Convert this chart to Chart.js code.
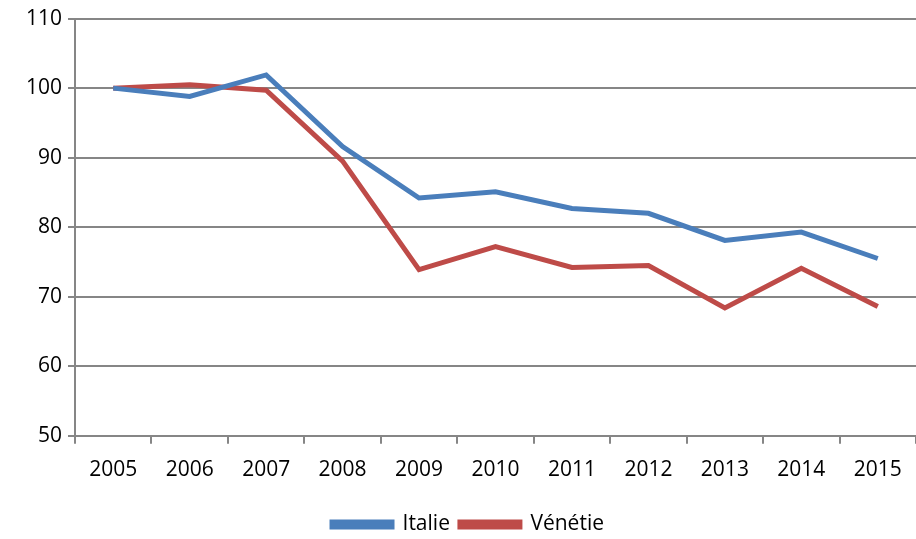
<!DOCTYPE html>
<html lang="fr">
<head>
  <meta charset="UTF-8" />
  <title>Italie / Vénétie</title>
  <script src="https://cdn.jsdelivr.net/npm/chart.js"></script>
  <style>
    html, body { margin: 0; padding: 0; background: #fff; }
    #wrap { width: 916px; height: 539px; }
  </style>
</head>
<body>
  <div id="wrap"><canvas id="chart"></canvas></div>
  <script>
    const years = ['2005', '2006', '2007', '2008', '2009', '2010', '2011', '2012', '2013', '2014', '2015'];
    const italie = [100, 98.8, 101.9, 91.6, 84.2, 85.1, 82.7, 82.0, 78.1, 79.3, 75.5];
    const venetie = [100, 100.5, 99.7, 89.5, 73.9, 77.2, 74.2, 74.5, 68.4, 74.1, 68.6];

    const gridGray = '#868686';
    Chart.defaults.font.family = "'Open Sans', 'Liberation Sans', sans-serif";
    Chart.defaults.color = '#000';

    new Chart(document.getElementById('chart'), {
      type: 'line',
      data: {
        labels: years,
        datasets: [
          { label: 'Italie', data: italie, borderColor: '#4A7EBB', backgroundColor: '#4A7EBB', borderWidth: 5, pointRadius: 0, tension: 0 },
          { label: 'Vénétie', data: venetie, borderColor: '#BE4B48', backgroundColor: '#BE4B48', borderWidth: 5, pointRadius: 0, tension: 0 }
        ]
      },
      options: {
        responsive: true,
        maintainAspectRatio: false,
        animation: false,
        layout: { padding: { top: 8, right: 0, left: 20, bottom: -6 } },
        plugins: {
          tooltip: { enabled: false },
          legend: {
            position: 'bottom',
            labels: { boxWidth: 60, boxHeight: 5, padding: 10, font: { size: 21 } }
          }
        },
        scales: {
          x: {
            offset: true,
            grid: { offset: true, drawOnChartArea: false, color: gridGray, lineWidth: 2, tickLength: 8 },
            border: { color: gridGray, width: 2 },
            ticks: { font: { size: 21 }, padding: 14, maxRotation: 0 },
            afterFit: (scale) => { scale.height += 7; }
          },
          y: {
            min: 50, max: 110,
            ticks: { stepSize: 10, font: { size: 21 }, padding: 6 },
            grid: { color: gridGray, lineWidth: 2, tickLength: 7 },
            border: { color: gridGray, width: 2 }
          }
        }
      }
    });
  </script>
</body>
</html>
